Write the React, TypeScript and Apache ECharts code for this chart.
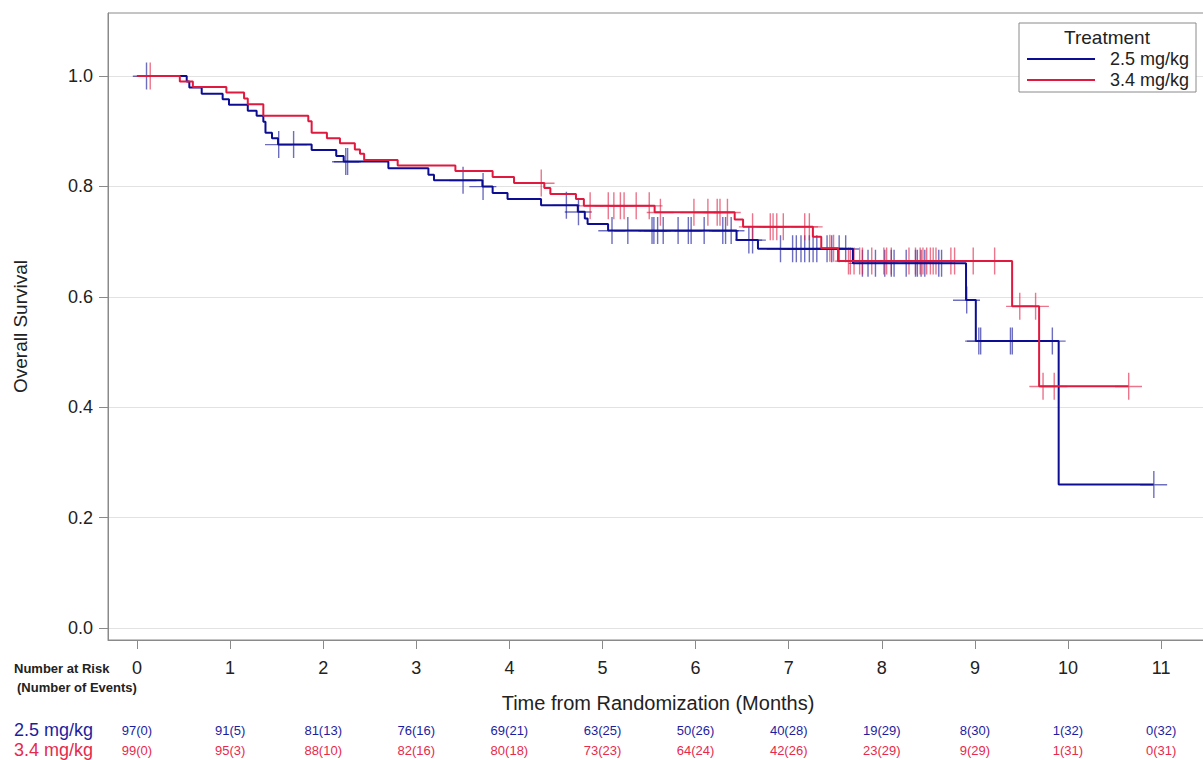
import React, { useEffect, useRef } from "react";
import * as echarts from "echarts";

// ---- data ----
const xTicks = [0, 1, 2, 3, 4, 5, 6, 7, 8, 9, 10, 11];
const yTicks = [0, 0.2, 0.4, 0.6, 0.8, 1.0];

const blueName = "2.5 mg/kg";
const redName = "3.4 mg/kg";

// Kaplan-Meier step points (time in months, survival after the drop)
const blueTimes = [0, 0.534, 0.562, 0.695, 0.92, 0.988, 1.19, 1.285, 1.357, 1.38, 1.45, 1.515, 1.876, 2.14, 2.22, 2.7, 3.13, 3.19, 3.71, 3.82, 3.98, 4.34, 4.735, 4.81, 4.84, 5.06, 6.44, 6.67, 7.69, 8.905, 9.01, 9.9, 10.92];
const blueSurv = [1.0, 0.99, 0.979, 0.968, 0.958, 0.948, 0.937, 0.928, 0.917, 0.897, 0.887, 0.876, 0.866, 0.855, 0.845, 0.833, 0.821, 0.811, 0.8, 0.788, 0.777, 0.766, 0.754, 0.742, 0.732, 0.72, 0.703, 0.687, 0.661, 0.594, 0.52, 0.26, 0.26];
const blueCensored = [0.1, 1.52, 1.68, 2.24, 2.26, 3.5, 3.715, 4.61, 4.74, 5.1, 5.27, 5.53, 5.55, 5.59, 5.65, 5.81, 5.92, 5.95, 6.09, 6.29, 6.32, 6.38, 6.57, 6.61, 6.91, 7.04, 7.08, 7.13, 7.17, 7.22, 7.26, 7.3, 7.41, 7.46, 7.54, 7.61, 7.79, 7.85, 7.93, 8.03, 8.1, 8.13, 8.26, 8.36, 8.38, 8.42, 8.46, 8.61, 8.64, 8.91, 9.04, 9.06, 9.38, 9.4, 9.83, 10.92];

const redTimes = [0, 0.46, 0.6, 0.96, 1.15, 1.19, 1.357, 1.84, 1.876, 2.04, 2.18, 2.34, 2.395, 2.44, 2.8, 3.42, 3.82, 4.05, 4.375, 4.44, 4.715, 4.8, 5.56, 6.42, 6.51, 7.26, 7.35, 7.53, 9.4, 9.69, 10.65];
const redSurv = [1.0, 0.99, 0.98, 0.97, 0.959, 0.949, 0.928, 0.918, 0.897, 0.887, 0.878, 0.867, 0.859, 0.848, 0.838, 0.828, 0.817, 0.806, 0.797, 0.786, 0.777, 0.765, 0.753, 0.74, 0.727, 0.709, 0.688, 0.665, 0.583, 0.438, 0.438];
const redCensored = [0.14, 4.34, 4.865, 5.06, 5.12, 5.19, 5.23, 5.36, 5.5, 5.62, 5.98, 6.13, 6.23, 6.26, 6.34, 6.61, 6.8, 6.83, 6.87, 6.94, 7.17, 7.22, 7.44, 7.48, 7.64, 7.66, 7.7, 7.76, 7.79, 7.89, 8.02, 8.05, 8.1, 8.29, 8.36, 8.41, 8.44, 8.48, 8.52, 8.55, 8.58, 8.74, 8.78, 8.98, 9.21, 9.48, 9.65, 9.73, 9.85, 10.65];

// Number at risk (number of events) at each month tick
const blueAtRisk = [97, 91, 81, 76, 69, 63, 50, 40, 19, 8, 1, 0];
const blueEvents = [0, 5, 13, 16, 21, 25, 26, 28, 29, 30, 32, 32];
const redAtRisk = [99, 95, 88, 82, 80, 73, 64, 42, 23, 9, 1, 0];
const redEvents = [0, 3, 10, 16, 18, 23, 24, 26, 29, 29, 31, 31];

// ---- styling ----
const FONT = "'Liberation Sans', Arial, sans-serif";
const BLUE = "#0d0d94";
const RED = "#e0193f";
const BLUE_TXT = "#1d1da0";
const RED_TXT = "#e62a4c";
const GRAY = "#8a8a8a";
const X_MIN = -0.3115;
const X_MAX = 11.504;
const Y_MIN = -0.0217;
const Y_MAX = 1.1141;

const CROSS = "path://M13,0 h1.4 v27 h-1.4 z M0,13 h27 v1.4 h-27 z";

function survAt(times: number[], surv: number[], t: number) {
  let s = surv[0];
  for (let i = 0; i < times.length; i++) if (times[i] <= t) s = surv[i];
  return s;
}

export default function App() {
  const ref = useRef<HTMLDivElement>(null);
  useEffect(() => {
    if (!ref.current) return;
    const chart = echarts.init(ref.current, null, { renderer: "svg" });
    const tickIndex = (v: number) => xTicks.indexOf(Math.round(v));
    const riskAxis = (offset: number, name: string, color: string, atRisk: number[], events: number[]) => ({
      type: "value",
      gridIndex: 0,
      min: X_MIN,
      max: X_MAX,
      position: "bottom",
      offset,
      axisLine: { show: false, onZero: false },
      axisTick: { show: false },
      splitLine: { show: false },
      axisLabel: {
        customValues: xTicks,
        margin: 0,
        verticalAlign: "middle",
        fontSize: 13,
        fontFamily: FONT,
        color,
        formatter: (v: number) => {
          const i = tickIndex(v);
          return i >= 0 ? `${atRisk[i]}(${events[i]})` : "";
        },
      },
      name,
      nameLocation: "start",
      nameGap: 15,
      nameTextStyle: { color, fontSize: 18, fontFamily: FONT },
    });

    chart.setOption({
      animation: false,
      backgroundColor: "#fff",
      textStyle: { fontFamily: FONT },
      grid: {
        left: 108,
        top: 13,
        width: 1100,
        height: 627,
        show: true,
        borderColor: GRAY,
        borderWidth: 1,
        containLabel: false,
      },
      legend: {
        data: [blueName, redName],
        orient: "vertical",
        left: 1019,
        top: 23,
        padding: [27, 7, 3, 8],
        icon: "rect",
        itemWidth: 68,
        itemHeight: 2,
        itemGap: 3,
        borderColor: GRAY,
        borderWidth: 1,
        backgroundColor: "#fff",
        selectedMode: false,
        formatter: "{a|{name}}",
        textStyle: {
          fontFamily: FONT,
          rich: { a: { width: 89, align: "right", fontSize: 18, lineHeight: 20, color: "#222", fontFamily: FONT } },
        },
      },
      graphic: [
        { type: "text", x: 1107, y: 37, z: 100, style: { text: "Treatment", fontSize: 19, fontFamily: FONT, fill: "#222", align: "center", verticalAlign: "middle" } },
        { type: "text", x: 14, y: 668, style: { text: "Number at Risk", fontSize: 13, fontWeight: "bold", fontFamily: FONT, fill: "#222", verticalAlign: "middle" } },
        { type: "text", x: 17, y: 687, style: { text: "(Number of Events)", fontSize: 13, fontWeight: "bold", fontFamily: FONT, fill: "#222", verticalAlign: "middle" } },
      ],
      xAxis: [
        {
          type: "value",
          gridIndex: 0,
          min: X_MIN,
          max: X_MAX,
          position: "bottom",
          axisLine: { show: true, onZero: false, lineStyle: { color: GRAY, width: 1 } },
          axisTick: { show: true, length: 9, customValues: xTicks, lineStyle: { color: GRAY } },
          axisLabel: { customValues: xTicks, margin: 19, fontSize: 18, color: "#222", fontFamily: FONT },
          splitLine: { show: false },
          name: "Time from Randomization (Months)",
          nameLocation: "middle",
          nameGap: 53,
          nameTextStyle: { fontSize: 20, color: "#222", fontFamily: FONT },
        },
        riskAxis(90, blueName, BLUE_TXT, blueAtRisk, blueEvents),
        riskAxis(110, redName, RED_TXT, redAtRisk, redEvents),
      ],
      yAxis: {
        type: "value",
        min: Y_MIN,
        max: Y_MAX,
        axisLine: { show: true, onZero: false, lineStyle: { color: GRAY, width: 1 } },
        axisTick: { show: true, length: 9, customValues: yTicks, lineStyle: { color: GRAY } },
        axisLabel: {
          customValues: yTicks,
          margin: 15,
          fontSize: 18,
          color: "#222",
          fontFamily: FONT,
          formatter: (v: number) => v.toFixed(1),
        },
        splitLine: { show: true, lineStyle: { color: "#e2e2e2", width: 1 } },
        name: "Overall Survival",
        nameLocation: "middle",
        nameGap: 78,
        nameTextStyle: { fontSize: 19, color: "#222", fontFamily: FONT },
      },
      series: [
        {
          name: blueName,
          type: "line",
          step: "end",
          symbol: "none",
          lineStyle: { color: BLUE, width: 2 },
          itemStyle: { color: BLUE },
          data: blueTimes.map((t, i) => [t, blueSurv[i]]),
        },
        {
          name: redName,
          type: "line",
          step: "end",
          symbol: "none",
          lineStyle: { color: RED, width: 2 },
          itemStyle: { color: RED },
          data: redTimes.map((t, i) => [t, redSurv[i]]),
        },
        {
          name: blueName + " censored",
          type: "scatter",
          symbol: CROSS,
          symbolSize: 27,
          itemStyle: { color: BLUE, opacity: 0.6 },
          data: blueCensored.map((t) => [t, survAt(blueTimes, blueSurv, t)]),
        },
        {
          name: redName + " censored",
          type: "scatter",
          symbol: CROSS,
          symbolSize: 27,
          itemStyle: { color: RED, opacity: 0.6 },
          data: redCensored.map((t) => [t, survAt(redTimes, redSurv, t)]),
        },
      ],
    });
    return () => chart.dispose();
  }, []);
  return (
    <div
      ref={ref}
      style={{ position: "fixed", left: 0, top: 0, width: 1214, height: 760, background: "#fff" }}
    />
  );
}
